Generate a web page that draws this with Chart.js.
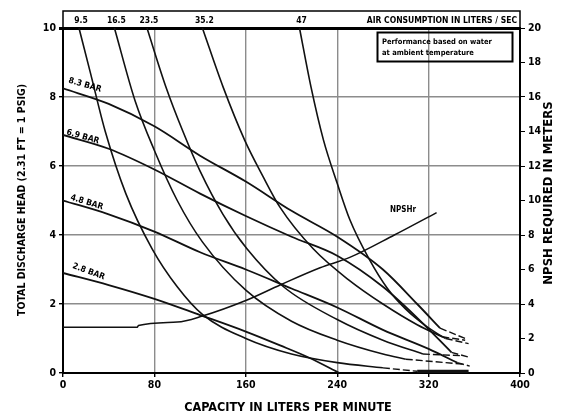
<!DOCTYPE html>
<html>
<head>
<meta charset="utf-8">
<script src="https://cdn.jsdelivr.net/npm/chart.js@4.4.1/dist/chart.umd.min.js"></script>
<style>
  html, body { margin: 0; padding: 0; background: #fff; }
</style>
</head>
<body>
<canvas id="myChart" width="565" height="417"></canvas>
<script>
// axis ticks
const flowTicks = [0, 80, 160, 240, 320, 400];
const headTicks = [0, 2, 4, 6, 8, 10];
const npshTicks = [0, 2, 4, 6, 8, 10, 12, 14, 16, 18, 20];

// discharge head (bar) against capacity (l/min), one curve per air inlet pressure
const headNames = ['8.3 BAR', '6.9 BAR', '4.8 BAR', '2.8 BAR'];
const head83 = [[0, 8.25], [40, 7.8], [80, 7.15], [120, 6.3], [160, 5.55], [200, 4.7], [240, 3.95], [280, 3.0], [310, 2.0], [330, 1.3]];
const head69 = [[0, 6.9], [40, 6.5], [80, 5.9], [120, 5.2], [160, 4.55], [200, 3.95], [240, 3.4], [280, 2.5], [310, 1.6], [340, 0.6]];
const head48 = [[0, 5.0], [40, 4.6], [80, 4.1], [120, 3.5], [160, 3.0], [200, 2.45], [240, 1.9], [280, 1.25], [320, 0.7], [345, 0.3]];
const head28 = [[0, 2.9], [40, 2.55], [80, 2.15], [120, 1.68], [160, 1.2], [190, 0.8], [215, 0.45], [242, 0]];
const head83Tail = [[330, 1.3], [352, 1.0]];
const head69Tail = [[340, 0.6], [356, 0.45]];
const head48Tail = [[345, 0.3], [356, 0.2]];

// air consumption curves (l/s)
const airNames = ['9.5', '16.5', '23.5', '35.2', '47'];
const air95 = [[14, 10], [24, 8.7], [37, 7.0], [55, 5.2], [78, 3.6], [100, 2.5], [122, 1.7], [160, 1.0], [200, 0.55], [240, 0.3], [280, 0.15]];
const air165 = [[45, 10], [63, 7.9], [80, 6.45], [100, 5.0], [122, 3.8], [160, 2.4], [200, 1.5], [240, 0.95], [280, 0.55], [300, 0.4]];
const air235 = [[73.5, 10], [90, 8.3], [105, 7.0], [120, 5.85], [140, 4.6], [161, 3.6], [193, 2.5], [240, 1.55], [280, 0.95], [315, 0.55]];
const air352 = [[122, 10], [140, 8.3], [159, 6.75], [175, 5.7], [190, 4.8], [219, 3.6], [250, 2.7], [280, 2.0], [310, 1.4], [335, 1.0]];
const air47 = [[207, 10], [217, 8.3], [228, 6.75], [240, 5.5], [251, 4.45], [268, 3.3], [284, 2.45], [300, 1.85], [319, 1.33], [332, 1.05]];
const air95Tail = [[280, 0.15], [310, 0.05]];
const air95Floor = [[310, 0.04], [355, 0.04]];
const air165Tail = [[300, 0.4], [352, 0.25]];
const air235Tail = [[315, 0.55], [350, 0.5]];
const air352Tail = [[335, 1.0], [355, 0.85]];
const air47Tail = [[332, 1.05], [352, 0.95]];

// NPSH required (m) on the right axis
const npshr = [[0, 2.65], [65, 2.65], [66, 2.75], [100, 2.95], [122, 3.3], [160, 4.2], [190, 5.1], [225, 6.1], [251, 6.7], [290, 8.0], [327, 9.3]];

const FONT = "'DejaVu Sans Condensed', 'Liberation Sans Narrow', sans-serif";

function pts(arr) {
  return arr.map(p => ({ x: p[0], y: p[1] }));
}

function curve(arr, width, axis) {
  return {
    data: pts(arr),
    yAxisID: axis || 'y',
    borderColor: '#111',
    borderWidth: width,
    pointRadius: 0,
    fill: false,
    cubicInterpolationMode: 'monotone'
  };
}

function tail(arr) {
  return {
    data: pts(arr),
    yAxisID: 'y',
    borderColor: '#111',
    borderWidth: 1.4,
    borderDash: [7, 3],
    pointRadius: 0,
    fill: false
  };
}

const heads = [head83, head69, head48, head28];
const airs = [air95, air165, air235, air352, air47];

const datasets = [];
heads.forEach(h => datasets.push(curve(h, 1.8)));
airs.forEach(a => datasets.push(curve(a, 1.6)));
[head83Tail, head69Tail, head48Tail, air95Tail, air165Tail, air235Tail, air352Tail, air47Tail].forEach(t => datasets.push(tail(t)));
datasets.push(curve(air95Floor, 3.5));
datasets.push(curve(npshr, 1.5, 'y2'));

// header band, note box, curve labels and axis titles
const decorations = {
  id: 'decorations',
  afterDraw(chart) {
    const ctx = chart.ctx;
    const xs = chart.scales.x, ys = chart.scales.y;
    const area = chart.chartArea;
    ctx.save();

    // air consumption header above the plot
    ctx.strokeStyle = '#000';
    ctx.lineWidth = 1.5;
    ctx.beginPath();
    ctx.moveTo(area.left, area.top);
    ctx.lineTo(area.left, 11);
    ctx.lineTo(area.right, 11);
    ctx.lineTo(area.right, area.top);
    ctx.stroke();

    ctx.fillStyle = '#000';
    ctx.font = 'bold 8.5px ' + FONT;
    ctx.textBaseline = 'alphabetic';
    ctx.textAlign = 'center';
    airs.forEach((a, i) => {
      ctx.fillText(airNames[i], xs.getPixelForValue(a[0][0]) + 2, 23);
    });
    ctx.textAlign = 'right';
    ctx.fillText('AIR CONSUMPTION IN LITERS / SEC', area.right - 3, 23);

    // note box
    ctx.lineWidth = 2;
    ctx.strokeRect(377.5, 32.5, 135, 29);
    ctx.textAlign = 'left';
    ctx.font = 'bold 7.5px ' + FONT;
    ctx.fillText('Performance based on water', 382, 44);
    ctx.fillText('at ambient temperature', 382, 55);

    // pressure labels along the head curves
    const lbl = [[4.4, 8.42, 0.28], [2.6, 6.92, 0.28], [6.1, 5.03, 0.3], [7.9, 3.05, 0.36]];
    ctx.font = 'bold 8.5px ' + FONT;
    lbl.forEach((l, i) => {
      ctx.save();
      ctx.translate(xs.getPixelForValue(l[0]), ys.getPixelForValue(l[1]));
      ctx.rotate(l[2]);
      ctx.fillText(headNames[i], 0, 0);
      ctx.restore();
    });
    ctx.font = 'bold 8px ' + FONT;
    ctx.fillText('NPSHr', 390, 212);

    // axis titles
    ctx.textAlign = 'center';
    ctx.textBaseline = 'middle';
    ctx.font = 'bold 12.5px ' + FONT;
    ctx.fillText('CAPACITY IN LITERS PER MINUTE', 288, 408);
    ctx.save();
    ctx.translate(22, 200);
    ctx.rotate(-Math.PI / 2);
    ctx.font = 'bold 10.5px ' + FONT;
    ctx.fillText('TOTAL DISCHARGE HEAD (2.31 FT = 1 PSIG)', 0, 0);
    ctx.restore();
    ctx.save();
    ctx.translate(549, 193);
    ctx.rotate(-Math.PI / 2);
    ctx.font = 'bold 13px ' + FONT;
    ctx.fillText('NPSH REQUIRED IN METERS', 0, 0);
    ctx.restore();

    ctx.restore();
  }
};

const tickFont = { family: FONT, size: 10.5, weight: 'bold' };

const ctx = document.getElementById('myChart');
const myChart = new Chart(ctx, {
  type: 'line',
  data: { datasets: datasets },
  options: {
    responsive: false,
    animation: false,
    layout: { padding: { top: 28, left: 0, right: 0, bottom: 0 } },
    plugins: { legend: { display: false }, tooltip: { enabled: false } },
    scales: {
      x: {
        type: 'linear',
        min: 0,
        max: 400,
        afterBuildTicks: s => { s.ticks = flowTicks.map(v => ({ value: v })); },
        afterFit: s => { s.height = 44; },
        border: { color: '#000', width: 2 },
        grid: {
          color: c => (c.tick.value === 0 || c.tick.value === 400) ? 'rgba(0,0,0,0)' : '#8c8c8c',
          lineWidth: 1.4,
          tickLength: 4,
          tickColor: '#000'
        },
        ticks: { color: '#000', font: tickFont, padding: 2 }
      },
      y: {
        type: 'linear',
        position: 'left',
        min: 0,
        max: 10,
        afterBuildTicks: s => { s.ticks = headTicks.map(v => ({ value: v })); },
        afterFit: s => { s.width = 63; },
        border: { color: '#000', width: 2 },
        grid: {
          color: c => c.tick.value === 10 ? '#000' : (c.tick.value === 0 ? 'rgba(0,0,0,0)' : '#8c8c8c'),
          lineWidth: c => c.tick.value === 10 ? 3 : 1.4,
          tickLength: 4,
          tickColor: '#000'
        },
        ticks: { color: '#000', font: tickFont, padding: 3 }
      },
      y2: {
        type: 'linear',
        position: 'right',
        min: 0,
        max: 20,
        afterBuildTicks: s => { s.ticks = npshTicks.map(v => ({ value: v })); },
        afterFit: s => { s.width = 45; },
        border: { color: '#000', width: 2 },
        grid: { drawOnChartArea: false, tickLength: 5, tickColor: '#000' },
        ticks: { color: '#000', font: tickFont, padding: 3 }
      }
    }
  },
  plugins: [decorations]
});
</script>
</body>
</html>
